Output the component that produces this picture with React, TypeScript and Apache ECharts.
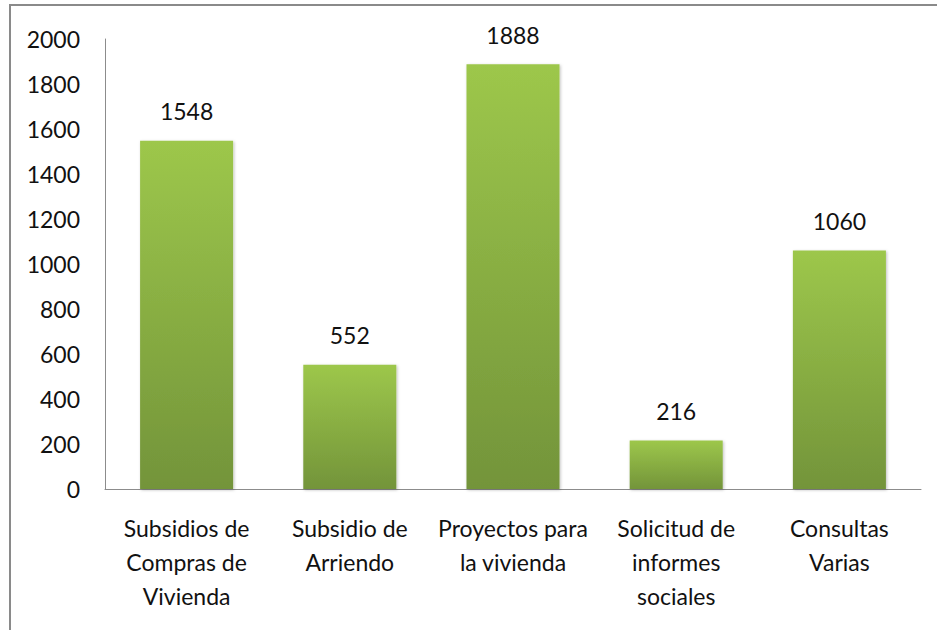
import React, { useEffect, useRef } from "react";
import * as echarts from "echarts";

const categories = [
  "Subsidios de\nCompras de\nVivienda",
  "Subsidio de\nArriendo",
  "Proyectos para\nla vivienda",
  "Solicitud de\ninformes\nsociales",
  "Consultas\nVarias",
];
const values = [1548, 552, 1888, 216, 1060];
const yTicks = { min: 0, max: 2000, interval: 200 };

const FONT = "Lato, 'Open Sans', sans-serif";

export default function App() {
  const ref = useRef<HTMLDivElement>(null);
  useEffect(() => {
    if (!ref.current) return;
    const chart = echarts.init(ref.current, undefined, { renderer: "svg" });
    chart.setOption({
      animation: false,
      backgroundColor: "#ffffff",
      graphic: [
        {
          type: "rect",
          shape: { x: 10, y: 5, width: 1000, height: 700 },
          style: { fill: "none", stroke: "#8a8a8a", lineWidth: 2 },
          silent: true,
        },
      ],
      grid: { left: 105, right: 16, top: 39, bottom: 141, containLabel: false },
      xAxis: {
        type: "category",
        data: categories,
        axisLine: { show: true, lineStyle: { color: "#8c8c8c", width: 1 } },
        axisTick: { show: false },
        axisLabel: {
          color: "#111",
          fontFamily: FONT,
          fontSize: 23,
          lineHeight: 34,
          margin: 22,
          interval: 0,
        },
      },
      yAxis: {
        type: "value",
        min: yTicks.min,
        max: yTicks.max,
        interval: yTicks.interval,
        axisLine: { show: true, lineStyle: { color: "#8c8c8c", width: 1 } },
        axisTick: { show: false },
        splitLine: { show: false },
        axisLabel: {
          color: "#111",
          fontFamily: FONT,
          fontSize: 23,
          margin: 25,
          formatter: (v: number) => String(v),
        },
      },
      series: [
        {
          type: "bar",
          data: values,
          barWidth: "57%",
          itemStyle: {
            color: new echarts.graphic.LinearGradient(0, 0, 0, 1, [
              { offset: 0, color: "#9dc74b" },
              { offset: 1, color: "#73943a" },
            ]),
            shadowColor: "rgba(0,0,0,0.25)",
            shadowBlur: 3,
            shadowOffsetX: 1,
            shadowOffsetY: 1,
          },
          label: {
            show: true,
            position: "top",
            distance: 18,
            color: "#111",
            fontFamily: FONT,
            fontSize: 23,
          },
        },
      ],
    });
    return () => chart.dispose();
  }, []);
  return (
    <div
      ref={ref}
      style={{ position: "fixed", left: 0, top: 0, width: 937, height: 630 }}
    />
  );
}
